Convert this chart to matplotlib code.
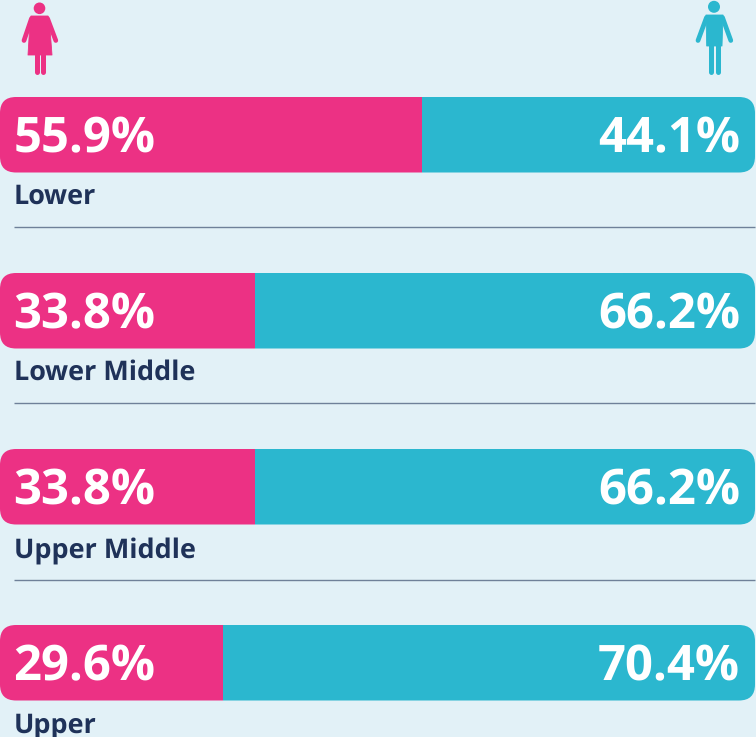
import matplotlib
matplotlib.use("Agg")
import matplotlib.pyplot as plt
from matplotlib.patches import FancyBboxPatch, Polygon, Ellipse

plt.rcParams["text.hinting"] = "no_hinting"
plt.rcParams["text.hinting_factor"] = 1

categories = ["Lower", "Lower Middle", "Upper Middle", "Upper"]
women = [55.9, 33.8, 33.8, 29.6]
men = [44.1, 66.2, 66.2, 70.4]

BG = "#E2F1F7"
PINK = "#EC3184"
TEAL = "#2BB7CF"
NAVY = "#1F3259"
LINE = "#6F8199"
W, H = 756, 737
TOP = [97, 273, 449, 625]
LABEL_Y = [193.3, 369.3, 548, 721.8]
RULE_Y = [227, 403, 580]
BAR_H = 75.5
SCALE = 7.55

fig = plt.figure(figsize=(W / 100, H / 100), dpi=100, facecolor=BG)
ax = fig.add_axes([0, 0, 1, 1])
ax.set_xlim(0, W / SCALE)
ax.set_ylim(H, 0)
ax.axis("off")
px = 1 / SCALE  # pixels to percent units on x

for i, cat in enumerate(categories):
    y = TOP[i] + BAR_H / 2
    clip = FancyBboxPatch((0, TOP[i]), 100, BAR_H, mutation_aspect=SCALE,
                          boxstyle=f"round,pad=0,rounding_size={16 * px}",
                          transform=ax.transData, fc="none", ec="none")
    ax.add_patch(clip)
    b1 = ax.barh(y, women[i], height=BAR_H, color=PINK, lw=0)
    b2 = ax.barh(y, men[i], left=women[i], height=BAR_H, color=TEAL, lw=0)
    for b in (b1[0], b2[0]):
        b.set_clip_path(clip)
    ax.text(13.5 * px, y - 1.5, f"{women[i]:.1f}%", color="white", ha="left", va="center_baseline",
            family="Open Sans", weight="bold", fontsize=35.0)
    ax.text(100 - 15 * px, y - 1.5, f"{men[i]:.1f}%", color="white", ha="right", va="center_baseline",
            family="Open Sans", weight="bold", fontsize=35.0)
    ax.text(14 * px, LABEL_Y[i], cat, color=NAVY, ha="left", va="center_baseline",
            family="Open Sans", weight="bold", fontsize=19.1)

for y in RULE_Y:
    ax.plot([14 * px, 100], [y, y], color=LINE, lw=1.0, solid_capstyle="butt")


def poly(pts, color):
    ax.add_patch(Polygon([(x * px, y) for x, y in pts], closed=True, fc=color, ec=color,
                         lw=0.6, joinstyle="round"))


def limb(x0, y0, x1, y1, w, color):
    ax.plot([x0 * px, x1 * px], [y0, y1], color=color, lw=w, solid_capstyle="round")


def head(cx, cy, r, color):
    ax.add_patch(Ellipse((cx * px, cy), 2 * r * px, 2 * r, fc=color, ec="none"))


# woman icon
head(39.5, 8.3, 5.8, PINK)
poly([(31, 16), (48, 16), (49.5, 22), (52, 55), (28, 55), (30, 22)], PINK)
limb(31.5, 18.5, 24, 40.5, 3.4, PINK)
limb(47.5, 18.5, 55.8, 40.5, 3.4, PINK)
limb(37.2, 55, 37.2, 72.3, 3.6, PINK)
limb(42.7, 55, 42.7, 72.3, 3.6, PINK)

# man icon
head(714, 6.8, 6, TEAL)
poly([(706, 15), (723, 15), (722, 46), (706.7, 46)], TEAL)
limb(706.5, 17.5, 698, 40.5, 3.4, TEAL)
limb(722.5, 17.5, 730.8, 40.5, 3.4, TEAL)
limb(711.3, 45, 711.3, 72.3, 3.6, TEAL)
limb(717.6, 45, 717.6, 72.3, 3.6, TEAL)

fig.savefig("out.png", dpi=100, facecolor=BG)
